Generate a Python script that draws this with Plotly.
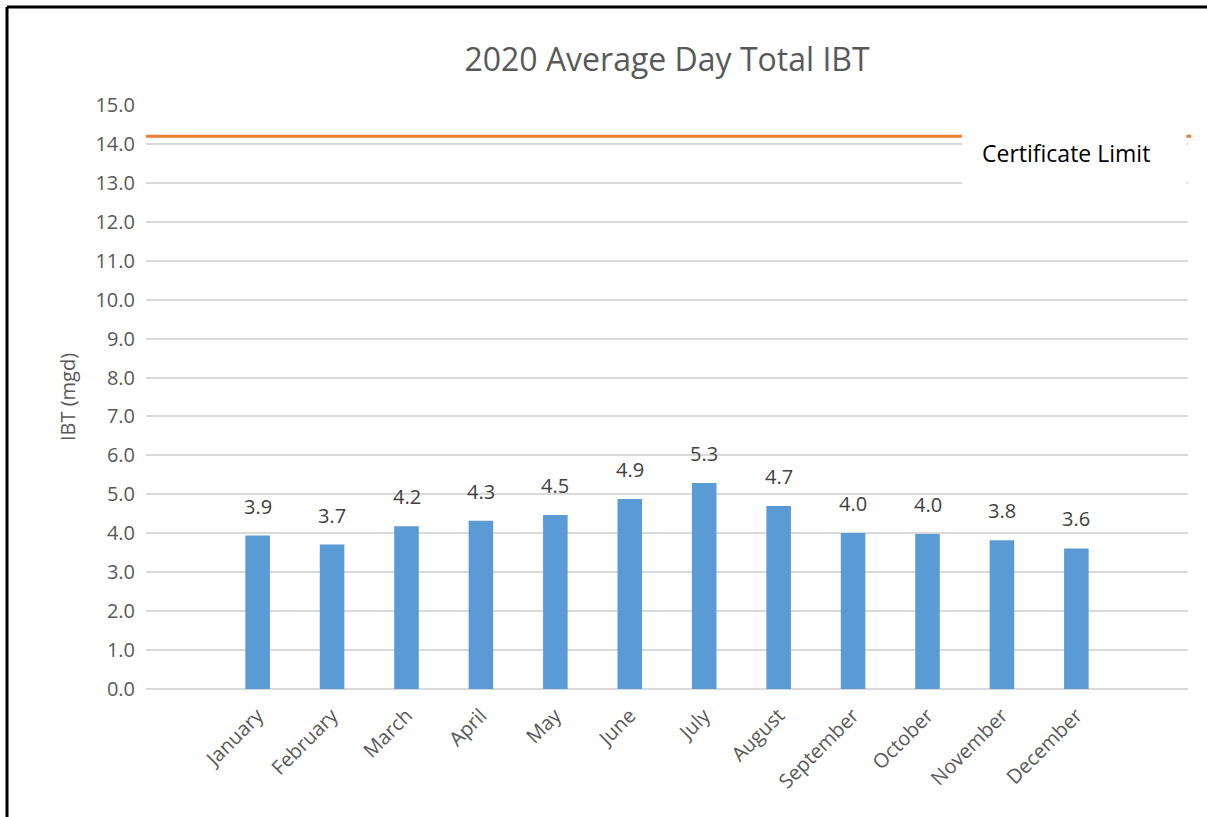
import plotly.graph_objects as go

# Data
months = ["January", "February", "March", "April", "May", "June", "July",
          "August", "September", "October", "November", "December"]
ibt = [3.94, 3.71, 4.18, 4.32, 4.47, 4.88, 5.29, 4.70, 4.01, 3.98, 3.82, 3.61]
cert_limit = 14.2
y_ticks = [i * 1.0 for i in range(16)]

grey = "#595959"
font = "Open Sans"

# bars sit at slots 1..12, with an empty slot either side
slots = list(range(1, len(months) + 1))

fig = go.Figure()
fig.add_trace(go.Bar(
    x=slots, y=ibt, width=0.33,
    marker=dict(color="#5B9BD5", line=dict(width=0)),
    showlegend=False, hoverinfo="y",
))

# value labels, lifted a bit above each bar
for s, v in zip(slots, ibt):
    fig.add_annotation(x=s, y=v, text=f"{v:.1f}", showarrow=False,
                       yanchor="bottom", yshift=14,
                       font=dict(size=20, color="#404040", family=font))

# certificate limit line across the whole plot area
fig.add_shape(type="line", xref="paper", yref="y", x0=0, x1=1.003,
              y0=cert_limit, y1=cert_limit,
              line=dict(color="#ED7D31", width=3), layer="above")

# white label box that hides the line and gridlines on the right
fig.add_shape(type="rect", xref="paper", yref="y", x0=0.783, x1=0.9985,
              y0=12.85, y1=14.5, fillcolor="white", line=dict(width=0),
              layer="above")
fig.add_annotation(xref="paper", yref="y", x=0.883, y=13.77,
                   xanchor="center", yanchor="middle",
                   text="Certificate Limit", showarrow=False,
                   font=dict(size=23, color="#000000", family=font))

# screenshot frame at top and left
fig.add_shape(type="line", xref="paper", yref="paper", x0=-0.1334, x1=1.02,
              y0=1.1678, y1=1.1678, line=dict(color="black", width=3))
fig.add_shape(type="line", xref="paper", yref="paper", x0=-0.1334, x1=-0.1334,
              y0=1.1678, y1=-0.22, line=dict(color="black", width=3))

fig.update_layout(
    width=1207, height=817,
    margin=dict(l=146, r=19, t=105, b=128),
    paper_bgcolor="white", plot_bgcolor="white",
    title=dict(text="2020 Average Day Total IBT", x=0.5, xref="paper",
               y=0.927, yanchor="middle",
               font=dict(size=32, color=grey, family=font)),
    xaxis=dict(range=[-0.5, len(months) + 1.5], tickmode="array",
               tickvals=slots, ticktext=months, tickangle=-45,
               tickfont=dict(size=20, color=grey, family=font),
               ticklabelstandoff=10,
               showgrid=False, zeroline=False, showline=False, ticks=""),
    yaxis=dict(range=[0, 15], tickmode="array", tickvals=y_ticks,
               tickformat=".1f",
               tickfont=dict(size=20, color=grey, family=font),
               showgrid=True, gridcolor="#D9D9D9", gridwidth=2,
               zeroline=True, zerolinecolor="#D9D9D9", zerolinewidth=2,
               ticklabelstandoff=10,
               title=dict(text="IBT (mgd)", standoff=14,
                          font=dict(size=20, color=grey, family=font))),
)

fig.write_html("out.html", config={"displayModeBar": False},
               post_script="document.body.style.margin='0';")
